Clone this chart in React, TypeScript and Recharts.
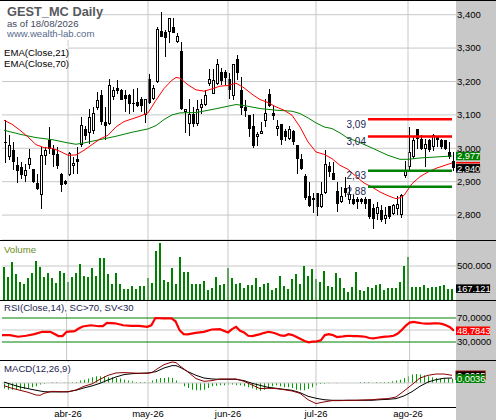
import React from 'react';
import {
  ComposedChart,
  Bar,
  Line,
  XAxis,
  YAxis,
  CartesianGrid,
  ReferenceLine,
} from 'recharts';

const FONT = '"Liberation Sans", Arial, sans-serif';
const GRID = '#c8c8c8';
const W = 496;
const PLOT_LEFT = 2;
const AXIS_W = 42;

// trading days (Madrid calendar), one list of days per month
const MONTHS = ['2026-03', '2026-04', '2026-05', '2026-06', '2026-07', '2026-08'];
const DAYS = [
  [10, 11, 12, 13, 16, 17, 18, 19, 20, 23, 24, 25, 26, 27, 30, 31],
  [1, 2, 7, 8, 9, 10, 13, 14, 15, 16, 17, 20, 21, 22, 23, 24, 27, 28, 29, 30],
  [4, 5, 6, 7, 8, 11, 12, 13, 14, 15, 18, 19, 20, 21, 22, 25, 26, 27, 28, 29],
  [1, 2, 3, 4, 5, 8, 9, 10, 11, 12, 15, 16, 17, 18, 19, 22, 23, 24, 25, 26, 29, 30],
  [1, 2, 3, 6, 7, 8, 9, 10, 13, 14, 15, 16, 17, 20, 21, 22, 23, 24, 27, 28, 29, 30, 31],
  [3, 4, 5, 6, 7, 10, 11, 12, 13, 14, 17, 18],
];
const DATES = MONTHS.flatMap((m, k) => DAYS[k].map((d) => `${m}-${String(d).padStart(2, '0')}`));

const MONTH_TICKS = ['2026-04-01', '2026-05-04', '2026-06-01', '2026-07-01', '2026-08-03'];
const MONTH_LABELS = ['abr-26', 'may-26', 'jun-26', 'jul-26', 'ago-26'];

const OPEN = [
  3.020, 2.974, 2.994, 2.951, 2.944, 2.916, 2.951, 2.937, 2.896, 2.859,
  2.976, 3.024, 2.999, 2.984, 2.924, 2.901, 2.919, 2.948, 2.967, 3.009,
  3.059, 3.046, 3.051, 3.122, 3.159, 3.078, 3.074, 3.154, 3.182, 3.174,
  3.159, 3.159, 3.135, 3.139, 3.149, 3.099, 3.207, 3.149, 3.199, 3.351,
  3.349, 3.349, 3.362, 3.319, 3.291, 3.109, 3.074, 3.104, 3.074, 3.122,
  3.129, 3.192, 3.164, 3.192, 3.227, 3.229, 3.207, 3.157, 3.266, 3.174,
  3.124, 3.099, 3.066, 3.034, 3.044, 3.082, 3.164, 3.106, 3.059, 3.074,
  3.051, 3.029, 3.051, 3.009, 2.969, 2.916, 2.856, 2.846, 2.867, 2.824,
  2.866, 2.946, 2.927, 2.871, 2.839, 2.882, 2.846, 2.849, 2.849, 2.847,
  2.849, 2.849, 2.822, 2.804, 2.816, 2.789, 2.826, 2.804, 2.819, 2.799,
  2.916, 2.944, 2.974, 3.059, 3.029, 2.999, 3.026, 3.004, 3.034, 3.024,
  3.024, 2.989, 2.962,
];
const HIGH = [
  3.086, 3.039, 3.019, 2.974, 2.959, 2.954, 2.999, 2.937, 2.924, 3.004,
  3.004, 3.064, 3.009, 3.004, 2.926, 2.904, 2.989, 2.974, 3.004, 3.094,
  3.066, 3.119, 3.124, 3.169, 3.174, 3.124, 3.206, 3.184, 3.204, 3.179,
  3.176, 3.164, 3.179, 3.182, 3.154, 3.149, 3.222, 3.189, 3.364, 3.409,
  3.354, 3.389, 3.389, 3.344, 3.319, 3.119, 3.149, 3.124, 3.144, 3.149,
  3.174, 3.236, 3.236, 3.266, 3.239, 3.234, 3.226, 3.252, 3.279, 3.212,
  3.144, 3.099, 3.104, 3.049, 3.079, 3.149, 3.177, 3.126, 3.084, 3.074,
  3.059, 3.066, 3.054, 3.009, 2.982, 2.924, 2.899, 2.866, 2.867, 2.899,
  2.996, 2.959, 2.959, 2.899, 2.884, 2.914, 2.889, 2.861, 2.854, 2.852,
  2.854, 2.849, 2.834, 2.839, 2.829, 2.824, 2.826, 2.832, 2.856, 2.864,
  2.962, 3.064, 3.034, 3.059, 3.039, 3.029, 3.029, 3.044, 3.036, 3.029,
  3.026, 3.019, 2.989,
];
const LOW = [
  2.956, 2.964, 2.934, 2.896, 2.909, 2.899, 2.939, 2.896, 2.874, 2.819,
  2.949, 2.984, 2.944, 2.939, 2.869, 2.890, 2.917, 2.924, 2.924, 3.004,
  3.024, 3.014, 3.044, 3.114, 3.069, 3.024, 3.069, 3.144, 3.164, 3.144,
  3.109, 3.104, 3.109, 3.124, 3.109, 3.076, 3.134, 3.144, 3.194, 3.334,
  3.274, 3.316, 3.344, 3.316, 3.114, 3.046, 3.036, 3.064, 3.066, 3.104,
  3.126, 3.186, 3.162, 3.189, 3.189, 3.189, 3.149, 3.146, 3.204, 3.099,
  3.094, 3.034, 3.002, 3.006, 3.042, 3.064, 3.124, 3.084, 3.036, 3.009,
  3.022, 3.024, 3.009, 2.924, 2.934, 2.844, 2.824, 2.806, 2.796, 2.822,
  2.864, 2.914, 2.904, 2.809, 2.836, 2.854, 2.832, 2.829, 2.819, 2.834,
  2.819, 2.789, 2.759, 2.784, 2.779, 2.774, 2.789, 2.799, 2.799, 2.792,
  2.912, 2.934, 2.969, 2.999, 2.994, 2.944, 2.989, 2.992, 3.004, 2.999,
  2.994, 2.969, 2.932,
];
const CLOSE = [
  3.018, 3.009, 2.959, 2.932, 2.919, 2.934, 2.972, 2.899, 2.879, 2.981,
  2.994, 2.999, 2.979, 2.946, 2.889, 2.894, 2.986, 2.956, 2.959, 3.069,
  3.036, 3.094, 3.106, 3.144, 3.079, 3.068, 3.189, 3.174, 3.172, 3.146,
  3.147, 3.134, 3.134, 3.126, 3.126, 3.148, 3.136, 3.182, 3.356, 3.334,
  3.329, 3.389, 3.344, 3.336, 3.119, 3.119, 3.104, 3.072, 3.119, 3.134,
  3.159, 3.206, 3.204, 3.251, 3.202, 3.209, 3.176, 3.251, 3.226, 3.122,
  3.112, 3.059, 3.007, 3.044, 3.051, 3.107, 3.126, 3.098, 3.066, 3.024,
  3.034, 3.059, 3.019, 2.969, 2.939, 2.852, 2.826, 2.852, 2.824, 2.862,
  2.952, 2.929, 2.906, 2.832, 2.856, 2.866, 2.862, 2.834, 2.839, 2.839,
  2.832, 2.794, 2.789, 2.824, 2.786, 2.799, 2.794, 2.829, 2.834, 2.859,
  2.931, 2.989, 3.024, 3.029, 2.999, 3.014, 2.994, 3.039, 3.024, 3.004,
  2.999, 2.974, 2.940,
];

// volume in thousands of shares
const VOLUME_K = [
  490, 343, 564, 377, 270, 230, 328, 402, 578, 490,
  343, 402, 328, 255, 426, 402, 270, 333, 392, 529,
  353, 333, 466, 353, 613, 613, 382, 230, 392, 235,
  162, 162, 211, 162, 206, 206, 319, 255, 721, 843,
  294, 270, 466, 230, 627, 407, 407, 235, 235, 235,
  279, 147, 181, 333, 221, 230, 466, 319, 230, 245,
  172, 221, 221, 319, 196, 230, 245, 147, 181, 353,
  206, 162, 304, 382, 230, 500, 353, 451, 304, 270,
  426, 206, 196, 392, 328, 172, 123, 186, 417, 147,
  137, 196, 172, 221, 230, 147, 181, 172, 172, 270,
  500, 637, 196, 186, 196, 221, 172, 186, 186, 206,
  221, 157, 167.121,
];

// indicator lines at [bar index, value]
const EMA21_PTS: [number, number][] = [
  [0, 3.084], [2, 3.072], [4, 3.054], [6, 3.034], [8, 3.011], [10, 3.002], [12, 3.0],
  [14, 2.991], [16, 2.979], [18, 2.98], [20, 2.994], [22, 3.011], [24, 3.028], [26, 3.039],
  [28, 3.064], [30, 3.08], [32, 3.088], [34, 3.096], [36, 3.106], [37, 3.125], [38, 3.144],
  [40, 3.179], [42, 3.204], [43, 3.212], [44, 3.21], [46, 3.19], [48, 3.175], [50, 3.171],
  [52, 3.178], [54, 3.186], [56, 3.188], [58, 3.195], [60, 3.181], [62, 3.162], [64, 3.146],
  [66, 3.137], [68, 3.124], [70, 3.114], [72, 3.099], [74, 3.064], [76, 3.019], [78, 2.989],
  [80, 2.982], [82, 2.969], [84, 2.949], [86, 2.937], [88, 2.916], [90, 2.896], [92, 2.884],
  [94, 2.869], [96, 2.858], [98, 2.849], [99, 2.852], [100, 2.859], [102, 2.894],
  [104, 2.915], [106, 2.929], [108, 2.94], [110, 2.948], [112, 2.956],
];
const EMA70_PTS: [number, number][] = [
  [0, 3.054], [4, 3.042], [8, 3.032], [12, 3.026], [16, 3.016], [18, 3.012], [20, 3.016],
  [24, 3.026], [28, 3.036], [32, 3.048], [36, 3.058], [38, 3.068], [40, 3.086], [42, 3.1],
  [44, 3.106], [48, 3.107], [52, 3.116], [56, 3.126], [58, 3.131], [60, 3.128], [64, 3.119],
  [68, 3.114], [72, 3.111], [74, 3.104], [76, 3.091], [78, 3.076], [80, 3.064], [82, 3.059],
  [84, 3.046], [86, 3.03], [88, 3.022], [92, 3.001], [96, 2.979], [99, 2.967], [101, 2.967],
  [104, 2.971], [108, 2.974], [112, 2.977],
];
const RSI_PTS: [number, number][] = [
  [0, 41.5], [2, 41.5], [4, 38.8], [6, 40.4], [8, 43.1], [10, 47.0], [12, 47.0], [14, 39.9],
  [15, 39.9], [16, 47.0], [18, 48.1], [19, 52.5], [20, 55.8], [22, 57.9], [24, 56.3],
  [25, 56.3], [26, 61.8], [28, 61.2], [30, 57.9], [32, 56.8], [34, 56.8], [36, 55.2],
  [37, 57.9], [38, 70.0], [40, 69.5], [42, 69.5], [43, 64.5], [44, 49.7], [45, 43.1],
  [46, 42.6], [48, 45.3], [50, 47.0], [52, 50.8], [54, 51.4], [56, 45.9], [57, 51.4],
  [58, 55.2], [59, 48.6], [60, 45.9], [61, 40.4], [62, 39.9], [63, 41.5], [64, 43.1],
  [65, 45.3], [66, 47.0], [67, 45.9], [68, 43.7], [69, 41.0], [70, 40.4], [71, 43.1],
  [72, 41.5], [73, 38.2], [74, 34.9], [75, 31.6], [76, 29.4], [77, 30.5], [78, 31.1],
  [79, 32.7], [80, 41.5], [81, 43.1], [82, 41.5], [83, 38.2], [84, 38.8], [85, 39.9],
  [86, 40.4], [87, 39.9], [88, 39.9], [89, 39.3], [90, 38.8], [91, 36.6], [92, 36.0],
  [93, 37.1], [94, 38.2], [95, 38.8], [96, 39.3], [97, 40.4], [98, 43.7], [99, 49.7],
  [100, 56.8], [101, 62.3], [102, 63.4], [103, 62.3], [104, 61.2], [105, 60.7], [106, 60.7],
  [107, 61.2], [108, 61.2], [109, 60.1], [110, 57.9], [111, 54.7], [112, 48.7843],
];
const MACD_PTS: [number, number][] = [
  [0, -0.0023], [2, -0.0045], [4, -0.0062], [6, -0.0079], [8, -0.0102], [9, -0.0105],
  [10, -0.0088], [12, -0.0071], [14, -0.0074], [16, -0.0076], [18, -0.0059], [20, -0.0028],
  [22, -0.0008], [24, 0.0031], [26, 0.0065], [28, 0.0085], [30, 0.0088], [32, 0.0085],
  [34, 0.0082], [36, 0.0082], [37, 0.0088], [38, 0.0113], [40, 0.0156], [42, 0.0178],
  [43, 0.0173], [44, 0.0144], [46, 0.0093], [48, 0.0037], [50, 0.0014], [52, 0.002],
  [54, 0.0034], [56, 0.0034], [58, 0.0034], [60, 0.0014], [62, -0.0017], [64, -0.0048],
  [66, -0.0045], [68, -0.0048], [70, -0.0057], [72, -0.0068], [74, -0.0088], [76, -0.0142],
  [78, -0.0175], [80, -0.0161], [82, -0.015], [84, -0.015], [86, -0.0147], [88, -0.0147],
  [90, -0.0144], [92, -0.0142], [94, -0.0136], [96, -0.0133], [98, -0.0119], [100, -0.0068],
  [102, -0.0014], [104, 0.0042], [106, 0.0065], [108, 0.0076], [110, 0.0076], [112, 0.0065],
];
const SIGNAL_PTS: [number, number][] = [
  [0, 0.0008], [2, -0.0014], [4, -0.0034], [6, -0.0048], [8, -0.0062], [10, -0.0074],
  [12, -0.0076], [14, -0.0076], [16, -0.0074], [18, -0.0062], [20, -0.0042], [22, -0.0025],
  [24, -0.0003], [26, 0.0025], [28, 0.0051], [30, 0.0071], [32, 0.0079], [34, 0.0082],
  [36, 0.0085], [38, 0.0096], [40, 0.0127], [42, 0.0147], [43, 0.0147], [44, 0.0133],
  [46, 0.0096], [48, 0.0065], [50, 0.0042], [52, 0.0034], [54, 0.0031], [56, 0.0031],
  [58, 0.0031], [60, 0.002], [62, -0.0003], [64, -0.002], [66, -0.0037], [68, -0.0045],
  [70, -0.0054], [72, -0.0062], [74, -0.0082], [76, -0.0113], [78, -0.013], [80, -0.0142],
  [82, -0.0147], [84, -0.0147], [86, -0.0147], [88, -0.0147], [90, -0.0147], [92, -0.0147],
  [94, -0.0142], [96, -0.0139], [98, -0.0133], [100, -0.011], [102, -0.0074], [104, -0.0028],
  [106, 0.0008], [108, 0.0028], [110, 0.004], [112, 0.0042],
];
// histogram, thousandths
const HIST_MILLI = [
  -4.8, -5.7, -5.7, -5.7, -5.7, -5.1, -4.2, -3.7, -2.8, -1.4,
  -0.6, 0, 0.6, 0.6, 0, 0.3, 0.6, 0.6, 0.8, 2.0,
  2.8, 3.7, 4.8, 5.7, 5.7, 5.7, 4.8, 4.8, 4.2, 3.7,
  2.8, 2.0, 1.4, 0.8, 0.8, 0.8, 0.3, 2.0, 3.4, 4.2,
  4.2, 4.8, 4.2, 2.0, 0, -2.8, -4.2, -5.7, -6.2, -6.2,
  -5.7, -4.2, -2.8, -2.3, -2.0, -2.0, -1.4, -1.4, -2.0, -2.0,
  -2.8, -3.7, -4.8, -5.7, -6.5, -5.7, -4.2, -2.8, -2.0, -2.8,
  -3.7, -3.7, -4.2, -5.7, -6.2, -6.2, -5.1, -3.7, -2.0, -0.8,
  -0.6, -0.3, 0, -0.3, 0, 0, 0, 0, 0, 0.8,
  0.8, 0.8, 0, 0.8, 0.3, 0.8, 0.8, 1.4, 2.0, 2.8,
  4.2, 5.7, 7.1, 7.6, 7.1, 6.5, 5.7, 4.8, 4.2, 3.7,
  3.7, 3.7, 3.6,
];

const LEVELS = [3.087, 3.035, 2.933, 2.885];
const LEVEL_LABELS = ['3,09', '3,04', '2,93', '2,88'];
const LEVEL_FROM = '2026-07-20';
const LEVEL_TO = '2026-08-18';

const PRICE_TICKS = [2.8, 2.9, 3.0, 3.1, 3.2, 3.3, 3.4];

const at = (pts: [number, number][], i: number) => {
  const p = pts.find((q) => q[0] === i);
  return p ? p[1] : null;
};

const rows = DATES.map((date, i) => ({
  date,
  open: OPEN[i],
  high: HIGH[i],
  low: LOW[i],
  close: CLOSE[i],
  range: [LOW[i], HIGH[i]],
  volume: VOLUME_K[i] * 1000,
  ema21: at(EMA21_PTS, i),
  ema70: at(EMA70_PTS, i),
  rsi: at(RSI_PTS, i),
  macd: at(MACD_PTS, i),
  signal: at(SIGNAL_PTS, i),
  hist: HIST_MILLI[i] / 1000,
}));

const last = rows[rows.length - 1];

const fmtComma = (v: number, d: number) => v.toFixed(d).replace('.', ',');
const fmtVol = (v: number) => Math.round(v).toString().replace(/\B(?=(\d{3})+(?!\d))/g, '.');

const TICK = { fontSize: 9.5, fill: '#000', fontFamily: FONT };

const Candle = (props: any) => {
  const { x, y, width, height, payload } = props;
  if (x == null || !payload) return null;
  const { open, close, high, low } = payload;
  const top = height >= 0 ? y : y + height;
  const h = Math.abs(height);
  const span = high - low;
  const toY = (v: number) => (span > 0 ? top + ((high - v) / span) * h : top);
  const cx = Math.round(x + width / 2);
  const yo = toY(open);
  const yc = toY(close);
  const bTop = Math.min(yo, yc);
  const bH = Math.max(Math.abs(yo - yc), 1);
  const up = close > open;
  return (
    <g shapeRendering="crispEdges">
      <line x1={cx + 0.5} x2={cx + 0.5} y1={top} y2={top + h} stroke="#000" strokeWidth={1} />
      {up ? (
        <rect x={cx - 0.5} y={bTop + 0.5} width={2} height={Math.max(bH - 1, 1)} fill="#fff" stroke="#000" strokeWidth={1} />
      ) : (
        <rect x={cx - 1} y={bTop} width={3} height={bH} fill="#000" />
      )}
    </g>
  );
};

const boxWidth = (t: string) => {
  const digits = t.replace(/[^0-9]/g, '').length;
  return digits * 5 + (t.length - digits) * 2.6 + 1.5;
};

const ValueBox = (props: any) => {
  const { viewBox, text, bg, border } = props;
  if (!viewBox) return null;
  const x = viewBox.x + viewBox.width + 2;
  const y = viewBox.y;
  return (
    <g>
      <rect x={x} y={y - 4.25} width={boxWidth(text)} height={8.5} fill={bg} stroke={border || 'none'} />
      <text x={x + 1} y={y + 3.3} fill="#fff" fontSize={9.3} fontFamily={FONT}>
        {text}
      </text>
    </g>
  );
};

const StripMark = (props: any) => {
  const { viewBox, color } = props;
  if (!viewBox) return null;
  const x = viewBox.x + viewBox.width + 2;
  return <rect x={x} y={viewBox.y - 1} width={24} height={1.5} fill={color} />;
};

const LevelTag = (props: any) => {
  const { viewBox, text } = props;
  if (!viewBox) return null;
  return (
    <text x={viewBox.x - 2} y={viewBox.y + 8.8} textAnchor="end" fontSize={10} fontFamily={FONT} fill="#1c2550">
      {text}
    </text>
  );
};

const monthLines = () =>
  MONTH_TICKS.map((d) => <ReferenceLine key={d} x={d} stroke={GRID} ifOverflow="visible" />);

const PriceChart = () => (
  <ComposedChart width={W} height={240} data={rows} margin={{ top: 0, right: 0, bottom: 0, left: PLOT_LEFT }}>
    <CartesianGrid vertical={false} stroke={GRID} />
    {monthLines()}
    <XAxis dataKey="date" hide />
    <YAxis
      orientation="right"
      width={AXIS_W}
      domain={[2.7254, 3.444]}
      allowDataOverflow
      ticks={PRICE_TICKS}
      tickFormatter={(v: number) => fmtComma(v, 3)}
      tick={TICK}
      tickLine={{ stroke: GRID }}
      tickSize={2}
      tickMargin={1}
      axisLine={false}
    />
    <Bar dataKey="range" barSize={3} isAnimationActive={false} shape={(p: any) => <Candle {...p} />} />
    <Line dataKey="ema70" stroke="#008000" strokeWidth={1} dot={false} connectNulls isAnimationActive={false} />
    <Line dataKey="ema21" stroke="#ff0000" strokeWidth={1} dot={false} connectNulls isAnimationActive={false} />
    {LEVELS.map((lv, k) => (
      <ReferenceLine
        key={lv}
        segment={[{ x: LEVEL_FROM, y: lv }, { x: LEVEL_TO, y: lv }]}
        stroke={k < 2 ? '#ff0000' : '#008000'}
        strokeWidth={2.5}
        label={(p: any) => <LevelTag {...p} text={LEVEL_LABELS[k]} />}
      />
    ))}
    <ReferenceLine y={last.ema21 as number} stroke="none" label={(p: any) => <StripMark {...p} color="#ff0000" />} />
    <ReferenceLine
      y={last.ema70 as number}
      stroke="none"
      label={(p: any) => <ValueBox {...p} text={fmtComma(last.ema70 as number, 3)} bg="#008000" />}
    />
    <ReferenceLine
      y={last.close}
      stroke="none"
      label={(p: any) => <ValueBox {...p} text={fmtComma(last.close, 3)} bg="#000" />}
    />
  </ComposedChart>
);

const VolumeChart = () => (
  <ComposedChart width={W} height={60} data={rows} margin={{ top: 0, right: 0, bottom: 0, left: PLOT_LEFT }}>
    <CartesianGrid vertical={false} stroke={GRID} />
    {monthLines()}
    <XAxis dataKey="date" hide />
    <YAxis
      orientation="right"
      width={AXIS_W}
      domain={[0, 882353]}
      allowDataOverflow
      ticks={[500000]}
      tickFormatter={fmtVol}
      tick={TICK}
      tickLine={{ stroke: GRID }}
      tickSize={2}
      tickMargin={1}
      axisLine={false}
    />
    <Bar dataKey="volume" barSize={2} fill="#008000" isAnimationActive={false} shapeRendering="crispEdges" />
    <ReferenceLine
      y={last.volume}
      stroke="none"
      label={(p: any) => <ValueBox {...p} text={fmtVol(last.volume)} bg="#000" />}
    />
  </ComposedChart>
);

const RsiChart = () => (
  <ComposedChart width={W} height={60} data={rows} margin={{ top: 0, right: 0, bottom: 0, left: PLOT_LEFT }}>
    {monthLines()}
    <ReferenceLine y={50} stroke={GRID} />
    <ReferenceLine y={70} stroke="#008000" />
    <ReferenceLine y={30} stroke="#008000" />
    <XAxis dataKey="date" hide />
    <YAxis
      orientation="right"
      width={AXIS_W}
      domain={[0, 100]}
      allowDataOverflow
      ticks={[30, 70]}
      tickFormatter={(v: number) => fmtComma(v, 4)}
      tick={TICK}
      tickLine={{ stroke: '#008000' }}
      tickSize={2}
      tickMargin={1}
      axisLine={false}
    />
    <Line dataKey="rsi" stroke="#ff0000" strokeWidth={2.2} dot={false} connectNulls isAnimationActive={false} />
    <ReferenceLine
      y={last.rsi as number}
      stroke="none"
      label={(p: any) => <ValueBox {...p} text={fmtComma(last.rsi as number, 4)} bg="#ff0000" />}
    />
  </ComposedChart>
);

const MacdChart = () => (
  <ComposedChart width={W} height={60} data={rows} margin={{ top: 0, right: 0, bottom: 0, left: PLOT_LEFT }}>
    {monthLines()}
    <ReferenceLine y={0} stroke={GRID} />
    <XAxis
      dataKey="date"
      height={13}
      ticks={MONTH_TICKS}
      interval={0}
      tickFormatter={(d: string) => MONTH_LABELS[MONTH_TICKS.indexOf(d)]}
      tick={TICK}
      tickLine={false}
      axisLine={false}
      tickSize={0}
      tickMargin={3.2}
    />
    <YAxis orientation="right" width={AXIS_W} domain={[-0.0204, 0.0195]} allowDataOverflow tick={false} axisLine={false} tickLine={false} />
    <Bar dataKey="hist" barSize={1} fill="#00a000" isAnimationActive={false} />
    <Line dataKey="signal" stroke="#000" strokeWidth={1} dot={false} connectNulls isAnimationActive={false} />
    <Line dataKey="macd" stroke="#8b0000" strokeWidth={1} dot={false} connectNulls isAnimationActive={false} />
    <ReferenceLine
      y={last.macd as number}
      stroke="none"
      label={(p: any) => <ValueBox {...p} text={fmtComma(last.macd as number, 4)} bg="#000" border="#8b0000" />}
    />
    <ReferenceLine
      y={last.hist}
      stroke="none"
      label={(p: any) => <ValueBox {...p} text={fmtComma(last.hist, 4)} bg="#008000" />}
    />
  </ComposedChart>
);

const Overlay = () => (
  <svg width={W} height={420} style={{ position: 'absolute', left: 0, top: 0, pointerEvents: 'none' }}>
    <g shapeRendering="crispEdges">
      <rect x={0} y={0} width={W} height={1} fill="#000" />
      <rect x={0} y={240} width={W} height={1} fill="#000" />
      <rect x={0} y={300} width={W} height={1} fill="#000" />
      <rect x={0} y={360} width={W} height={1} fill="#000" />
      <rect x={0} y={407} width={456} height={1} fill="#000" />
      <rect x={0} y={2} width={101} height={38} fill="#fff" />
      <rect x={1} y={46} width={67} height={23} fill="#fff" />
      <rect x={1} y={302} width={134} height={11} fill="#fff" />
      <rect x={1} y={362} width={69} height={13} fill="#fff" />
    </g>
    <g fontFamily={FONT}>
      <text x={7} y={15.5} fontSize={12.8} fontWeight="bold" fill="#56585c">GEST_MC Daily</text>
      <text x={7} y={27} fontSize={9.6} fill="#3f4a60">as of 18/08/2026</text>
      <text x={7} y={37.4} fontSize={9.6} fill="#56698a">www.wealth-lab.com</text>
      <text x={4} y={55.7} fontSize={9.6} fill="#000">EMA(Close,21)</text>
      <text x={4} y={66.7} fontSize={9.6} fill="#000">EMA(Close,70)</text>
      <text x={4} y={252.5} fontSize={9.6} fill="#6b8e23">Volume</text>
      <text x={4} y={311} fontSize={9.6} fill="#1c2550">RSI(Close,14), SC&gt;70, SV&lt;30</text>
      <text x={4} y={372} fontSize={9.6} fill="#1c2550">MACD(12,26,9)</text>
    </g>
  </svg>
);

export default function App() {
  return (
    <div
      style={{
        position: 'absolute',
        left: 0,
        top: 0,
        width: W,
        height: 420,
        background: '#fff',
        overflow: 'hidden',
        fontFamily: FONT,
      }}
    >
      <div style={{ position: 'absolute', left: 456, top: 0, width: 40, height: 420, background: '#c8c8c8' }} />
      <div style={{ position: 'absolute', left: 0, top: 0 }}>
        <PriceChart />
      </div>
      <div style={{ position: 'absolute', left: 0, top: 240 }}>
        <VolumeChart />
      </div>
      <div style={{ position: 'absolute', left: 0, top: 300 }}>
        <RsiChart />
      </div>
      <div style={{ position: 'absolute', left: 0, top: 360 }}>
        <MacdChart />
      </div>
      <Overlay />
    </div>
  );
}
